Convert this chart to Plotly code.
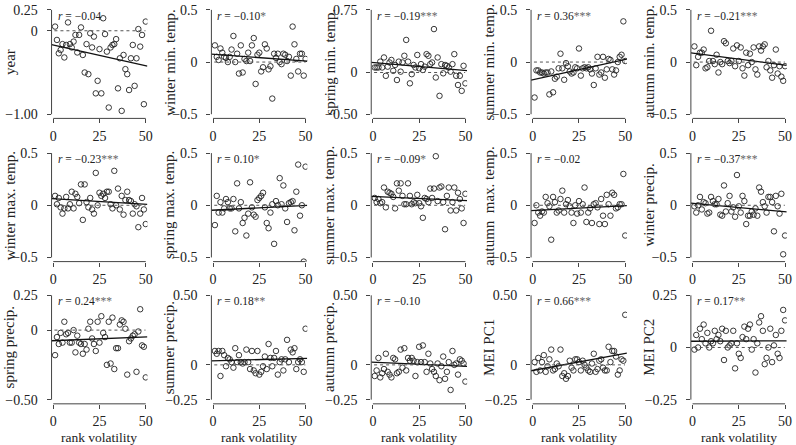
import plotly.graph_objects as go

# ---------------- data ----------------
rank = [1, 2, 3, 4, 5, 6, 7, 8, 9, 10, 11, 12, 13, 14, 15, 16, 17, 18, 19, 20,
        21, 22, 23, 24, 25, 26, 27, 28, 29, 30, 31, 32, 33, 34, 35, 36, 37, 38, 39, 40,
        41, 42, 43, 44, 45, 46, 47, 48, 49, 50]

x_ticks = [0, 25, 50]
x_tick_text = ["0", "25", "50"]

panel_titles = ["year", "winter min. temp.", "spring min. temp.", "summer min. temp.", "autumn min. temp.",
                "winter max. temp.", "spring max. temp.", "summer max. temp.", "autumn  max. temp.", "winter precip.",
                "spring precip.", "summer precip.", "autumn precip.", "MEI PC1", "MEI PC2"]

r_values = ["−0.04", "−0.10", "−0.19", "0.36", "−0.21",
            "−0.23", "0.10", "−0.09", "−0.02", "−0.37",
            "0.24", "0.18", "−0.10", "0.66", "0.17"]
r_stars = ["", "*", "***", "***", "***",
           "***", "*", "*", "", "***",
           "***", "**", "", "***", "**"]

y_tick_vals = [[-1.0, 0, 0.25], [-0.5, 0, 0.5], [-0.5, 0, 0.75], [-0.5, 0, 0.5], [-0.5, 0, 0.5],
               [-0.5, 0, 0.5], [-0.5, 0, 0.5], [-0.5, 0, 0.5], [-0.5, 0, 0.5], [-0.5, 0, 0.5],
               [-0.5, 0, 0.25], [-0.25, 0, 0.5], [-0.25, 0, 0.5], [-0.25, 0, 0.5], [-0.25, 0, 0.25]]
y_tick_text = [["−1.00", "0", "0.25"], ["−0.5", "0", "0.5"], ["−0.50", "0", "0.75"], ["−0.5", "0", "0.5"], ["−0.5", "0", "0.5"],
               ["−0.5", "0", "0.5"], ["−0.5", "0", "0.5"], ["−0.5", "0", "0.5"], ["−0.5", "0", "0.5"], ["−0.5", "0", "0.5"],
               ["−0.50", "0", "0.25"], ["−0.25", "0", "0.50"], ["−0.25", "0", "0.50"], ["−0.25", "0", "0.50"], ["−0.25", "0", "0.25"]]

# fitted regression line, value at rank 0 and at rank 50
fit_at_0 = [-0.17, 0.075, 0.12, -0.17, 0.085,
            0.063, -0.047, 0.085, -0.05, 0.02,
            -0.076, 0.029, 0.019, -0.04, 0.03]
fit_at_50 = [-0.42, 0.01, 0.025, 0.025, -0.03,
             0.009, -0.002, 0.046, -0.005, -0.062,
             -0.049, 0.047, -0.01, 0.082, 0.032]

year = [0.05, -0.11, -0.27, -0.23, -0.16, -0.32, -0.17, 0.10, -0.16, -0.20, -0.13, -0.05, -0.26, -0.05, 0.04,
        -0.29, -0.50, -0.16, -0.52, -0.03, -0.20, -0.07, -0.75, -0.60, -0.22, -0.75, 0.15, -0.04, -0.25, -0.92,
        -0.20, -0.17, -0.16, -0.10, -0.69, -0.33, -0.96, -0.29, -0.46, -0.52, -0.71, -0.33, -0.17, -0.66, -0.33,
        0.02, -0.19, -0.05, -0.88, 0.11]
winter_min_temp = [0.16, 0.05, 0.02, 0.13, 0.09, 0.05, 0.04, 0.00, 0.05, 0.12, 0.25, 0.00, 0.08, -0.11, 0.16,
                   -0.10, 0.03, 0.01, 0.09, 0.01, 0.16, 0.23, -0.21, 0.07, 0.09, -0.09, -0.05, 0.17, 0.13, -0.07,
                   -0.04, -0.35, 0.08, 0.04, 0.08, 0.00, -0.02, 0.08, 0.07, 0.01, 0.05, -0.13, 0.34, 0.17, 0.03,
                   -0.09, 0.08, 0.08, -0.13, 0.03]
spring_min_temp = [0.06, 0.06, 0.06, 0.13, 0.06, 0.18, -0.04, 0.07, 0.12, 0.15, 0.02, 0.09, -0.09, 0.13, 0.01,
                   0.12, 0.20, 0.39, 0.13, -0.13, -0.02, 0.09, 0.06, 0.21, 0.05, 0.10, 0.03, 0.07, 0.22, 0.20,
                   0.10, 0.12, 0.52, -0.06, 0.18, -0.28, 0.10, -0.01, 0.09, 0.08, 0.06, 0.01, 0.10, 0.22, -0.04,
                   -0.15, -0.04, -0.22, 0.08, -0.13]
summer_min_temp = [-0.34, -0.08, -0.08, -0.10, -0.10, -0.11, -0.10, -0.10, -0.31, -0.09, -0.29, -0.16, -0.14, -0.06, 0.08,
                   -0.06, -0.17, -0.01, -0.04, -0.09, -0.11, -0.10, -0.05, -0.06, 0.13, -0.13, -0.06, -0.05, -0.06, -0.05,
                   -0.07, -0.11, -0.22, -0.06, 0.05, -0.12, -0.10, 0.05, -0.15, -0.07, 0.03, 0.02, -0.07, -0.12, -0.08,
                   0.00, 0.05, 0.07, 0.39, 0.01]
autumn_min_temp = [0.15, -0.03, 0.05, 0.09, 0.09, 0.12, -0.06, -0.05, 0.01, 0.30, 0.01, -0.02, 0.07, -0.10, 0.00,
                   -0.02, 0.20, 0.18, 0.01, -0.01, 0.01, 0.13, -0.04, 0.16, 0.01, 0.14, -0.06, -0.13, 0.09, -0.03,
                   0.08, 0.00, 0.14, -0.07, -0.12, 0.15, 0.11, 0.15, 0.17, -0.05, 0.01, -0.08, -0.15, -0.03, 0.12,
                   -0.11, -0.04, -0.14, -0.18, -0.04]
winter_max_temp = [0.09, 0.01, 0.07, -0.02, -0.08, -0.03, 0.08, -0.03, 0.01, 0.13, -0.03, 0.11, 0.08, 0.02, 0.20,
                   -0.14, 0.20, 0.03, -0.02, 0.07, -0.04, -0.08, 0.31, 0.00, 0.12, 0.09, 0.11, 0.07, 0.13, 0.13,
                   0.01, -0.03, 0.33, 0.00, 0.16, -0.04, 0.09, -0.09, 0.05, 0.13, 0.05, 0.04, -0.08, 0.01, -0.01,
                   -0.21, -0.08, 0.07, -0.04, -0.18]
spring_max_temp = [-0.19, 0.09, -0.07, 0.03, -0.07, -0.03, 0.06, 0.03, -0.03, -0.03, 0.06, -0.25, 0.21, -0.03, 0.03,
                   -0.17, -0.12, -0.29, -0.08, 0.22, -0.02, -0.09, -0.11, 0.05, 0.07, 0.09, 0.12, -0.02, -0.17, -0.22,
                   -0.07, 0.01, -0.37, 0.04, 0.00, 0.26, 0.01, 0.19, -0.03, -0.16, 0.02, 0.03, 0.04, -0.24, 0.13,
                   0.39, -0.10, 0.00, -0.54, 0.37]
summer_max_temp = [0.07, 0.03, 0.06, 0.02, 0.03, 0.17, -0.02, 0.13, 0.12, 0.11, 0.08, -0.03, 0.21, 0.14, 0.21,
                   0.09, 0.01, 0.01, 0.21, 0.09, 0.01, 0.03, 0.02, 0.10, 0.02, -0.01, -0.12, 0.07, 0.06, 0.03,
                   0.16, 0.07, 0.16, 0.47, 0.04, 0.17, 0.18, 0.03, -0.23, 0.09, 0.17, -0.05, 0.03, 0.17, -0.05,
                   0.12, 0.06, -0.03, -0.17, 0.11]
autumn_max_temp = [-0.17, 0.00, -0.07, -0.10, -0.06, -0.07, 0.08, 0.02, -0.01, -0.33, 0.08, 0.03, -0.07, -0.05, 0.06,
                   0.14, -0.07, 0.01, 0.05, -0.01, -0.07, -0.17, 0.00, -0.08, 0.04, -0.07, 0.01, 0.17, -0.16, -0.07,
                   -0.03, -0.17, 0.01, 0.02, -0.02, -0.18, 0.06, -0.10, -0.18, 0.10, 0.01, -0.10, 0.12, 0.10, -0.03,
                   -0.02, 0.01, 0.01, 0.30, -0.29]
winter_precip = [-0.01, -0.07, 0.00, 0.08, -0.04, 0.03, 0.02, -0.08, -0.07, 0.08, 0.04, 0.01, 0.01, 0.06, -0.09,
                 -0.10, 0.19, -0.06, 0.02, 0.09, -0.06, -0.02, -0.11, 0.29, -0.01, -0.07, 0.09, 0.04, -0.18, -0.10,
                 -0.10, -0.06, -0.09, -0.03, -0.10, 0.17, 0.13, 0.03, -0.01, -0.07, 0.08, 0.08, 0.03, -0.25, 0.09,
                 -0.01, -0.08, 0.11, -0.47, -0.29]
spring_precip = [-0.18, -0.05, -0.10, -0.02, -0.09, 0.06, -0.03, -0.02, -0.09, -0.09, 0.00, -0.16, -0.04, -0.09, -0.10,
                 -0.17, -0.10, -0.14, 0.01, 0.06, -0.06, -0.10, -0.15, 0.06, -0.09, 0.10, -0.02, -0.05, -0.25, 0.06,
                 -0.24, 0.09, -0.28, -0.13, -0.13, 0.04, 0.07, 0.06, 0.01, -0.32, -0.08, -0.06, -0.04, -0.03, -0.30,
                 -0.01, 0.15, -0.11, -0.12, -0.34]
summer_precip = [0.10, 0.08, 0.10, -0.08, 0.10, 0.07, -0.01, 0.05, 0.04, 0.02, -0.02, 0.12, 0.02, 0.07, 0.02,
                 0.01, 0.02, 0.11, 0.02, -0.03, 0.10, -0.04, -0.06, 0.10, -0.07, -0.05, -0.01, 0.06, -0.03, 0.15,
                 0.05, -0.01, 0.05, 0.10, -0.07, 0.02, 0.04, -0.04, 0.04, 0.18, 0.02, 0.11, 0.09, 0.12, -0.03,
                 0.02, 0.04, 0.02, -0.05, 0.26]
autumn_precip = [-0.08, -0.04, 0.05, -0.09, -0.06, -0.03, 0.08, -0.05, -0.07, -0.09, 0.05, 0.04, -0.06, -0.05, 0.11,
                 -0.02, 0.12, -0.04, 0.05, 0.03, 0.05, 0.03, -0.08, 0.02, 0.13, 0.02, 0.14, 0.02, -0.05, 0.08,
                 0.01, -0.03, -0.05, -0.08, 0.01, -0.11, -0.01, 0.06, -0.10, -0.05, 0.02, -0.18, 0.10, 0.00, 0.01,
                 -0.07, 0.04, 0.03, 0.01, -0.12]
mei_pc1 = [0.02, -0.05, 0.05, -0.04, 0.02, 0.07, -0.05, -0.01, 0.04, 0.11, -0.04, -0.03, 0.01, -0.01, 0.11,
           -0.08, -0.06, -0.10, -0.08, 0.03, -0.02, -0.04, 0.04, 0.04, 0.02, -0.04, 0.03, 0.00, -0.02, -0.04,
           -0.05, 0.01, 0.08, -0.05, -0.03, 0.03, 0.04, -0.02, -0.04, -0.04, 0.13, 0.02, 0.10, 0.10, 0.06,
           -0.07, -0.04, 0.04, 0.03, 0.36]
mei_pc2 = [-0.01, 0.06, 0.00, 0.09, 0.04, 0.11, 0.02, 0.07, 0.00, 0.03, 0.02, 0.08, 0.04, 0.06, 0.03,
           0.09, -0.06, 0.08, 0.00, 0.01, 0.02, 0.08, -0.10, 0.02, -0.03, -0.05, 0.05, 0.10, 0.04, 0.09,
           0.11, -0.01, 0.04, -0.12, 0.02, 0.12, 0.15, 0.08, -0.08, -0.05, 0.00, 0.09, -0.07, 0.01, 0.06,
           -0.03, -0.05, 0.08, 0.18, 0.13]

series = [year, winter_min_temp, spring_min_temp, summer_min_temp, autumn_min_temp,
          winter_max_temp, spring_max_temp, summer_max_temp, autumn_max_temp, winter_precip,
          spring_precip, summer_precip, autumn_precip, mei_pc1, mei_pc2]

# ---------------- layout geometry (pixels) ----------------
W_PX, H_PX = 796, 445
col_left = [50, 211.25, 372.5, 533.75, 695]
region_w = 96.7
row_top = [7, 152.5, 297]
tick_span = 106
x_range = [-0.9, 50.9]
FONT = "Liberation Serif, Times New Roman, serif"
INK = "#222222"
AXC = "#444444"

def px(x):
    return x / W_PX

def py(y):
    return 1 - y / H_PX

fig = go.Figure()
shapes = []
annotations = []
layout_axes = {}

for i, ys in enumerate(series):
    r, c = divmod(i, 5)
    n = i + 1
    sfx = "" if n == 1 else str(n)
    L = col_left[c]
    top = row_top[r] - 0.04 * tick_span
    bottom = row_top[r] + 1.04 * tick_span
    yt = y_tick_vals[i]
    pad = 0.04 * (yt[-1] - yt[0])
    yr = [yt[0] - pad, yt[-1] + pad]

    layout_axes["xaxis" + sfx] = dict(
        domain=[px(L), px(L + region_w)], range=x_range, anchor="y" + sfx,
        tickmode="array", tickvals=x_ticks, ticktext=x_tick_text,
        ticks="outside", ticklen=4, tickcolor=AXC, tickwidth=1,
        showline=False, showgrid=False, zeroline=False,
        tickfont=dict(family=FONT, size=14, color=INK),
        ticklabelstandoff=0 if r == 2 else 1,
    )
    layout_axes["yaxis" + sfx] = dict(
        domain=[py(bottom), py(top)], range=yr, anchor="x" + sfx,
        tickmode="array", tickvals=yt, ticktext=y_tick_text[i],
        ticks="outside", ticklen=4, tickcolor=AXC, tickwidth=1,
        showline=False, showgrid=False, zeroline=False,
        tickfont=dict(family=FONT, size=14, color=INK),
        ticklabelstandoff=6,
    )

    xa, ya = "x" + sfx, "y" + sfx
    # axis lines spanning the tick range (R style)
    shapes.append(dict(type="line", xref=xa + " domain", x0=0, x1=0, yref=ya, y0=yt[0], y1=yt[-1],
                       line=dict(color=AXC, width=1)))
    shapes.append(dict(type="line", xref=xa, x0=x_ticks[0], x1=x_ticks[-1], yref=ya + " domain", y0=0, y1=0,
                       line=dict(color=AXC, width=1)))
    # dashed zero reference line
    shapes.append(dict(type="line", xref=xa + " domain", x0=0.03, x1=0.98, yref=ya, y0=0, y1=0,
                       line=dict(color="#555555", width=1, dash="3px,3px")))

    # points
    fig.add_trace(go.Scatter(x=rank, y=ys, mode="markers", xaxis=xa, yaxis=ya,
                             marker=dict(symbol="circle-open", size=5.5, color=INK, line=dict(width=0.9, color=INK)),
                             showlegend=False, hoverinfo="x+y"))
    # fitted line
    a, b = fit_at_0[i], fit_at_50[i]
    slope = (b - a) / 50.0
    fx = [x_range[0], x_range[1]]
    fy = [a + slope * v for v in fx]
    fig.add_trace(go.Scatter(x=fx, y=fy, mode="lines", xaxis=xa, yaxis=ya,
                             line=dict(color="#111111", width=1.3), showlegend=False, hoverinfo="skip"))

    # y title
    annotations.append(dict(text=panel_titles[i], xref="paper", yref="paper",
                            x=px(L - 42), y=py(row_top[r] + tick_span / 2), textangle=-90,
                            showarrow=False, xanchor="center", yanchor="middle",
                            font=dict(family=FONT, size=15, color=INK)))
    # r annotation
    stars = r_stars[i]
    txt = "<i>r</i> = " + r_values[i] + (f"<span style='color:#666'>{stars}</span>" if stars else "")
    annotations.append(dict(text=txt, xref="paper", yref="paper",
                            x=px(L + 4), y=py(top + 10.5), showarrow=False,
                            xanchor="left", yanchor="middle",
                            font=dict(family=FONT, size=11.5, color=INK)))
    # x title for bottom row
    if r == 2:
        annotations.append(dict(text="rank volatility", xref="paper", yref="paper",
                                x=px(L + 1.68 + 25 * 1.866), y=py(441), showarrow=False,
                                xanchor="center", yanchor="middle", borderpad=0,
                                font=dict(family=FONT, size=13.5, color=INK)))

fig.update_layout(
    width=W_PX, height=H_PX,
    margin=dict(l=0, r=0, t=0, b=0),
    paper_bgcolor="white", plot_bgcolor="white",
    shapes=shapes, annotations=annotations,
    **layout_axes,
)

fig.write_html("out.html",
               config={"displayModeBar": False},
               post_script="document.body.style.margin='0';document.body.style.padding='0';")
